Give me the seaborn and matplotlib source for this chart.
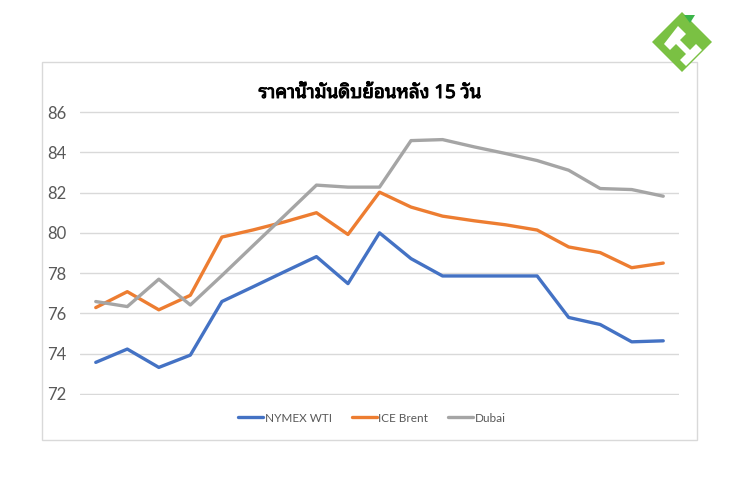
import numpy as np
import pandas as pd
import matplotlib
matplotlib.use("Agg")
import matplotlib.pyplot as plt
import seaborn as sns
from matplotlib import font_manager
from matplotlib.ft2font import FT2Font
from matplotlib.patches import Rectangle, Polygon
from matplotlib.lines import Line2D
import matplotlib.patheffects as pe

# ---- data ----
days = list(range(1, 20))
wti = [73.57, 74.23, 73.32, 73.93, 76.59, 77.33, 78.08, 78.82, 77.48, 80.0,
       78.72, 77.86, 77.86, 77.86, 77.86, 75.80, 75.45, 74.59, 74.64]
brent = [76.29, 77.08, 76.18, 76.90, 79.79, 80.15, 80.55, 81.0, 79.92, 82.02,
         81.28, 80.83, 80.6, 80.4, 80.14, 79.30, 79.02, 78.27, 78.50]
dubai = [76.59, 76.34, 77.70, 76.42, 77.88, 79.38, 80.87, 82.37, 82.27, 82.27,
         84.58, 84.63, 84.27, 83.94, 83.59, 83.11, 82.20, 82.15, 81.82]
series_names = ["NYMEX WTI", "ICE Brent", "Dubai"]
yticks = [72, 74, 76, 78, 80, 82, 84, 86]
title = "ราคาน้ำมันดิบย้อนหลัง 15 วัน"

colors = ["#4472C4", "#ED7D31", "#A5A5A5"]

sns.set_theme(style="white")

# find a font that has Thai glyphs
thai_font = None
cands = []
for f in font_manager.fontManager.ttflist:
    try:
        ft = FT2Font(f.fname)
        if ft.get_char_index(ord("ร")) != 0 and ft.get_char_index(ord("5")) != 0:
            cands.append(f)
    except Exception:
        pass
pref = ["Tahoma", "Leelawadee", "Noto Sans Thai", "Sarabun", "Loma", "Garuda", "Norasi"]
for p in pref:
    for f in cands:
        if p.lower() in f.name.lower():
            thai_font = f.name
            break
    if thai_font:
        break
if thai_font is None and cands:
    bold = [f for f in cands if f.weight in ("bold", 700)]
    thai_font = (bold or cands)[0].name
fam = [thai_font, "DejaVu Sans"] if thai_font else ["DejaVu Sans"]

plt.rcParams["font.family"] = ["Lato", "DejaVu Sans"]

df = pd.DataFrame({
    "day": days * 3,
    "price": wti + brent + dubai,
    "series": [series_names[0]] * len(days) + [series_names[1]] * len(days) + [series_names[2]] * len(days),
})

fig = plt.figure(figsize=(7.4, 4.8), dpi=100)
fig.patch.set_facecolor("white")

# outer frame
fig.add_artist(Rectangle((42 / 740, 1 - 440 / 480), (697 - 42) / 740, (440 - 62) / 480,
                         transform=fig.transFigure, fill=False, edgecolor="#D9D9D9", linewidth=1.0))

ax = fig.add_axes([80 / 740, 1 - 395 / 480, (679 - 80) / 740, (395 - 111) / 480])
sns.lineplot(data=df, x="day", y="price", hue="series", palette=colors,
             linewidth=2.4, ax=ax, legend=False)

ax.set_xlim(0.5, 19.5)
ax.set_ylim(71.95, 86.05)
ax.set_yticks(yticks)
ax.set_yticklabels([str(t) for t in yticks], color="#595959", fontsize=12)
ax.set_xticks([])
ax.set_xlabel("")
ax.set_ylabel("")
ax.tick_params(axis="y", length=0, pad=10)
ax.grid(axis="y", color="#D9D9D9", linewidth=1.0)
ax.set_axisbelow(True)
for s in ax.spines.values():
    s.set_visible(False)

fig.text(370 / 740, 1 - 93 / 480, title, ha="center", va="center",
         fontsize=13.5, fontweight="bold", color="#000000", family=fam,
         path_effects=[pe.withStroke(linewidth=0.7, foreground="black")])

handles = [Line2D([0], [0], color=c, linewidth=2.4) for c in colors]
leg = fig.legend(handles, series_names, loc="center", bbox_to_anchor=(372 / 740, 1 - 418 / 480),
                 ncol=3, frameon=False, prop={"family": ["Lato", "DejaVu Sans"], "size": 8.5},
                 handlelength=2.1, handletextpad=0.15, columnspacing=1.7)
for t in leg.get_texts():
    t.set_color("#595959")

# logo (approximate)
cx, cy = 682, 42
s = 30
pts = [(cx, cy - s), (cx + s, cy), (cx, cy + s), (cx - s, cy)]
fig.add_artist(Polygon([(x / 740, 1 - y / 480) for x, y in pts], closed=True,
                       transform=fig.transFigure, facecolor="#7AC143", edgecolor="none"))
inner = [(cx - 4, cy - 16), (cx + 4, cy - 8), (cx - 2, cy - 2), (cx + 8, cy + 8),
         (cx + 14, cy + 2), (cx + 20, cy + 8), (cx + 4, cy + 24), (cx - 2, cy + 18),
         (cx + 4, cy + 12), (cx - 6, cy + 2), (cx - 12, cy + 8), (cx - 18, cy + 2)]
fig.add_artist(Polygon([(x / 740, 1 - y / 480) for x, y in inner], closed=True,
                       transform=fig.transFigure, facecolor="white", edgecolor="none"))
tri = [(cx + 2, cy - 27), (cx + 13, cy - 27), (cx + 8, cy - 19)]
fig.add_artist(Polygon([(x / 740, 1 - y / 480) for x, y in tri], closed=True,
                       transform=fig.transFigure, facecolor="#3BB54A", edgecolor="none"))

fig.savefig("out.png", dpi=100, facecolor="white")
